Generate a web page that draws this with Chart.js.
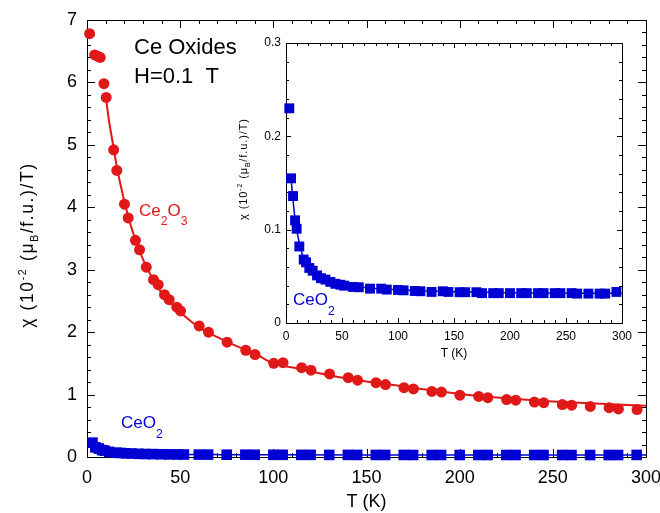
<!DOCTYPE html>
<html>
<head>
<meta charset="utf-8">
<script src="https://cdn.jsdelivr.net/npm/chart.js@4/dist/chart.umd.min.js"></script>
<style>
  html, body { margin: 0; padding: 0; background: #fff; }
  #wrap { position: relative; width: 660px; height: 513px; }
  #main { position: absolute; left: 0; top: 0; }
  #inset { position: absolute; left: 225px; top: 30px; }
</style>
</head>
<body>
<div id="wrap">
  <canvas id="main" width="660" height="513"></canvas>
  <canvas id="inset" width="415" height="335"></canvas>
</div>
<script>
// Ce2O3 susceptibility, T in K, chi in 10^-2 muB/f.u./T
const ce2o3T = [1.4, 4.1, 5.7, 7.1, 9.1, 10.3, 14.3, 16, 20.1, 22.1, 26, 28.2, 31.8, 35.7, 38.2, 41.6, 44.1, 48.2, 50.2,
  60.2, 65.2, 75.2, 85.2, 90.2, 100.2, 105.2, 115.2, 120.2, 130.2, 140.2, 145.2, 155.1, 160.2, 170.1, 175.2,
  185.1, 190.2, 200.1, 210.2, 215.1, 225.2, 230.1, 240.1, 245.1, 255.1, 260.1, 270.1, 280.2, 285.2, 295.2]
const ce2o3Chi = [6.78, 6.44, 6.42, 6.40, 5.98, 5.76, 4.92, 4.59, 4.05, 3.83, 3.47, 3.32, 3.04, 2.84, 2.76, 2.60, 2.52, 2.40, 2.34,
  2.10, 2.00, 1.84, 1.71, 1.64, 1.50, 1.51, 1.43, 1.39, 1.33, 1.27, 1.23, 1.19, 1.16, 1.11, 1.09,
  1.05, 1.04, 0.99, 0.97, 0.95, 0.92, 0.91, 0.88, 0.87, 0.84, 0.83, 0.81, 0.79, 0.77, 0.76]

// fitted curve for Ce2O3
const ce2o3FitT = [10, 12, 14, 16, 18, 20, 23, 26, 30, 35, 40, 45, 50, 60, 70, 80, 90, 100, 115, 130, 150, 170, 190, 210, 230, 250, 270, 300]
const ce2o3FitChi = [5.78, 5.35, 5.0, 4.65, 4.36, 4.1, 3.76, 3.48, 3.17, 2.87, 2.63, 2.46, 2.32, 2.08, 1.92, 1.78, 1.66, 1.50,
  1.41, 1.31, 1.21, 1.13, 1.05, 0.98, 0.93, 0.89, 0.86, 0.82]

// CeO2 susceptibility
const ceo2T = [2.95, 4.5, 6.3, 8.1, 9.5, 11.9, 15.8, 17.9, 20.8, 23.8, 27.7, 31.3, 35.2, 39.6, 44.1, 48.6, 52,
  60, 65, 75, 85, 90, 100, 105, 115, 120, 130, 140, 145, 155, 160, 170, 175, 185, 190, 200,
  210, 215, 225, 230, 240, 245, 255, 260, 270, 280, 285, 295]
const ceo2Chi = [0.230, 0.155, 0.136, 0.110, 0.101, 0.082, 0.068, 0.065, 0.059, 0.056, 0.051, 0.048, 0.0465, 0.044, 0.042, 0.041, 0.040,
  0.0386, 0.0383, 0.0368, 0.0368, 0.0358, 0.0354, 0.035, 0.0343, 0.034, 0.0333, 0.034, 0.0333, 0.033, 0.033, 0.033, 0.032, 0.032, 0.032, 0.032,
  0.032, 0.032, 0.032, 0.032, 0.032, 0.032, 0.032, 0.0315, 0.0315, 0.0315, 0.0315, 0.0333]

// fitted curve for CeO2
const ceo2FitT = [4.5, 6, 8, 10, 12, 15, 20, 25, 30, 40, 50, 70, 100, 150, 200, 250, 300]
const ceo2FitChi = [0.155, 0.135, 0.112, 0.097, 0.085, 0.072, 0.06, 0.053, 0.049, 0.044, 0.041, 0.038, 0.0355, 0.0335, 0.0325, 0.032, 0.0318]

const mainXTicks = [0, 300, 50, 10]   // min, max, major, minor
const mainYTicks = [0, 7, 1, 0.2]
const insetXTicks = [0, 300, 50, 10]
const insetYTicks = [0, 0.3, 0.1, 0.02]

const FONT = "'Liberation Sans', Arial, Helvetica, sans-serif"
const RED = "#e01818"
const BLUE = "#0000d2"

Chart.defaults.font.family = FONT

let pts = (xs, ys) => xs.map((x, i) => ({x: x, y: ys[i]}))

// text with sub/superscripts: runs = [[text, scale, dy]], spacing = extra px per char
let drawRuns = function (ctx, runs, x, y, size, color, rotate = false, center = false, spacing = 0) {
    ctx.save()
    ctx.fillStyle = color
    ctx.textBaseline = "alphabetic"
    ctx.textAlign = "left"
    let total = 0
    runs.forEach(r => {
        ctx.font = (size * r[1]) + "px " + FONT
        for (const ch of r[0]) total += ctx.measureText(ch).width + spacing
    })
    ctx.translate(x, y)
    if (rotate) ctx.rotate(-Math.PI / 2)
    let cx = center ? -total / 2 : 0
    runs.forEach(r => {
        ctx.font = (size * r[1]) + "px " + FONT
        if (spacing === 0) {
            ctx.fillText(r[0], cx, r[2])
            cx += ctx.measureText(r[0]).width
        } else {
            for (const ch of r[0]) {
                ctx.fillText(ch, cx, r[2])
                cx += ctx.measureText(ch).width + spacing
            }
        }
    })
    ctx.restore()
}

// box around the plot with inward ticks on all four sides
let framePlugin = function (xt, yt, majLen, minLen) {
    return {
        id: "frame",
        beforeDatasetsDraw(chart) {
            const ctx = chart.ctx
            const a = chart.chartArea
            const sx = chart.scales.x, sy = chart.scales.y
            ctx.save()
            ctx.strokeStyle = "#000"
            ctx.lineWidth = 1
            ctx.strokeRect(Math.round(a.left) + 0.5, Math.round(a.top) + 0.5, Math.round(a.right - a.left), Math.round(a.bottom - a.top))
            ctx.beginPath()
            let n = Math.round((xt[1] - xt[0]) / xt[3])
            for (let i = 0; i <= n; i++) {
                let v = xt[0] + i * xt[3]
                let major = Math.abs(v / xt[2] - Math.round(v / xt[2])) < 1e-6
                let len = major ? majLen : minLen
                let px = Math.round(sx.getPixelForValue(v)) + 0.5
                ctx.moveTo(px, a.bottom); ctx.lineTo(px, a.bottom - len)
                ctx.moveTo(px, a.top); ctx.lineTo(px, a.top + len)
            }
            n = Math.round((yt[1] - yt[0]) / yt[3])
            for (let i = 0; i <= n; i++) {
                let v = yt[0] + i * yt[3]
                let major = Math.abs(v / yt[2] - Math.round(v / yt[2])) < 1e-6
                let len = major ? majLen : minLen
                let py = Math.round(sy.getPixelForValue(v)) + 0.5
                ctx.moveTo(a.left, py); ctx.lineTo(a.left + len, py)
                ctx.moveTo(a.right, py); ctx.lineTo(a.right - len, py)
            }
            ctx.stroke()
            ctx.restore()
        }
    }
}

let chiTitle = [["\u03c7 (10", 1, 0], ["-2", 0.62, -0.42], [" (\u03bc", 1, 0], ["B", 0.62, 0.3], ["/f.u.)/T)", 1, 0]]

let mainLabels = {
    id: "mainLabels",
    afterDraw(chart) {
        const ctx = chart.ctx
        let t = chiTitle.map(r => [r[0], r[1], r[2] * 17.5])
        drawRuns(ctx, t, 33, 245, 17.5, "#000", true, true, 1.6)
        drawRuns(ctx, [["Ce Oxides", 1, 0]], 134, 54, 22, "#000")
        drawRuns(ctx, [["H=0.1  T", 1, 0]], 134, 83, 22, "#000")
        drawRuns(ctx, [["Ce", 1, 0], ["2", 0.72, 9], ["O", 1, 0], ["3", 0.72, 9]], 139, 216, 17, RED)
        drawRuns(ctx, [["CeO", 1, 0], ["2", 0.72, 10]], 121, 428, 17, BLUE)
    }
}

let insetLabels = {
    id: "insetLabels",
    beforeDraw(chart) {
        const a = chart.chartArea
        chart.ctx.save()
        chart.ctx.fillStyle = "#fff"
        chart.ctx.fillRect(a.left, a.top, a.right - a.left, a.bottom - a.top)
        chart.ctx.restore()
    },
    afterDraw(chart) {
        const ctx = chart.ctx
        let t = chiTitle.map(r => [r[0], r[1], r[2] * 11])
        drawRuns(ctx, t, 22, 139, 11, "#000", true, true, 0.9)
        drawRuns(ctx, [["CeO", 1, 0], ["2", 0.72, 10]], 68, 275, 17, BLUE)
    }
}

let axis = function (t, size, pad, fit, horizontal, title, titlePad) {
    return {
        type: "linear", min: t[0], max: t[1],
        grid: {display: false, drawTicks: false},
        border: {display: false},
        ticks: {stepSize: t[2], color: "#000", font: {size: size}, padding: pad, maxRotation: 0, autoSkip: false},
        title: {display: !!title, text: title || "", color: "#000", font: {size: size}, padding: {top: 0, bottom: titlePad}},
        afterFit(s) {
            // fixed axis sizes, no extra room for overhanging end labels
            if (horizontal) {
                s.height = fit
                s.paddingLeft = 0
                s.paddingRight = 0
            } else {
                s.width = fit
                s.paddingTop = 0
                s.paddingBottom = 0
            }
        }
    }
}

let baseOptions = function (xs, ys, pad) {
    return {
        responsive: false, animation: false, devicePixelRatio: 1, events: [],
        layout: {padding: pad},
        plugins: {legend: {display: false}, tooltip: {enabled: false}},
        scales: {x: xs, y: ys}
    }
}

new Chart(document.getElementById("main"), {
    type: "scatter",
    data: {
        datasets: [
            {data: pts(ce2o3T, ce2o3Chi), pointStyle: "circle", pointRadius: 5.5, backgroundColor: RED, borderWidth: 0, clip: false},
            {data: pts(ceo2T, ceo2Chi), pointStyle: "rect", pointRadius: 7.5, backgroundColor: BLUE, borderWidth: 0, clip: false},
            {data: pts(ce2o3FitT, ce2o3FitChi), showLine: true, pointRadius: 0, borderColor: RED, borderWidth: 2, cubicInterpolationMode: "monotone"},
            {data: pts(ceo2FitT, ceo2FitChi), showLine: true, pointRadius: 0, borderColor: BLUE, borderWidth: 1.5, cubicInterpolationMode: "monotone"}
        ]
    },
    options: baseOptions(
        axis(mainXTicks, 18, 10, 56, true, "T (K)", 0),
        axis(mainYTicks, 18, 10, 87, false),
        {left: 0, top: 20, right: 14, bottom: 0}),
    plugins: [framePlugin(mainXTicks, mainYTicks, 8, 4), mainLabels]
})

new Chart(document.getElementById("inset"), {
    type: "scatter",
    data: {
        datasets: [
            {data: pts(ceo2T, ceo2Chi), pointStyle: "rect", pointRadius: 7, backgroundColor: BLUE, borderWidth: 0, clip: false},
            {data: pts(ceo2FitT, ceo2FitChi), showLine: true, pointRadius: 0, borderColor: BLUE, borderWidth: 1.5, cubicInterpolationMode: "monotone"}
        ]
    },
    options: baseOptions(
        axis(insetXTicks, 12, 6, 42, true, "T (K)", 4),
        axis(insetYTicks, 12, 5, 61, false),
        {left: 0, top: 13, right: 18, bottom: 0}),
    plugins: [framePlugin(insetXTicks, insetYTicks, 5, 3), insetLabels]
})
</script>
</body>
</html>
